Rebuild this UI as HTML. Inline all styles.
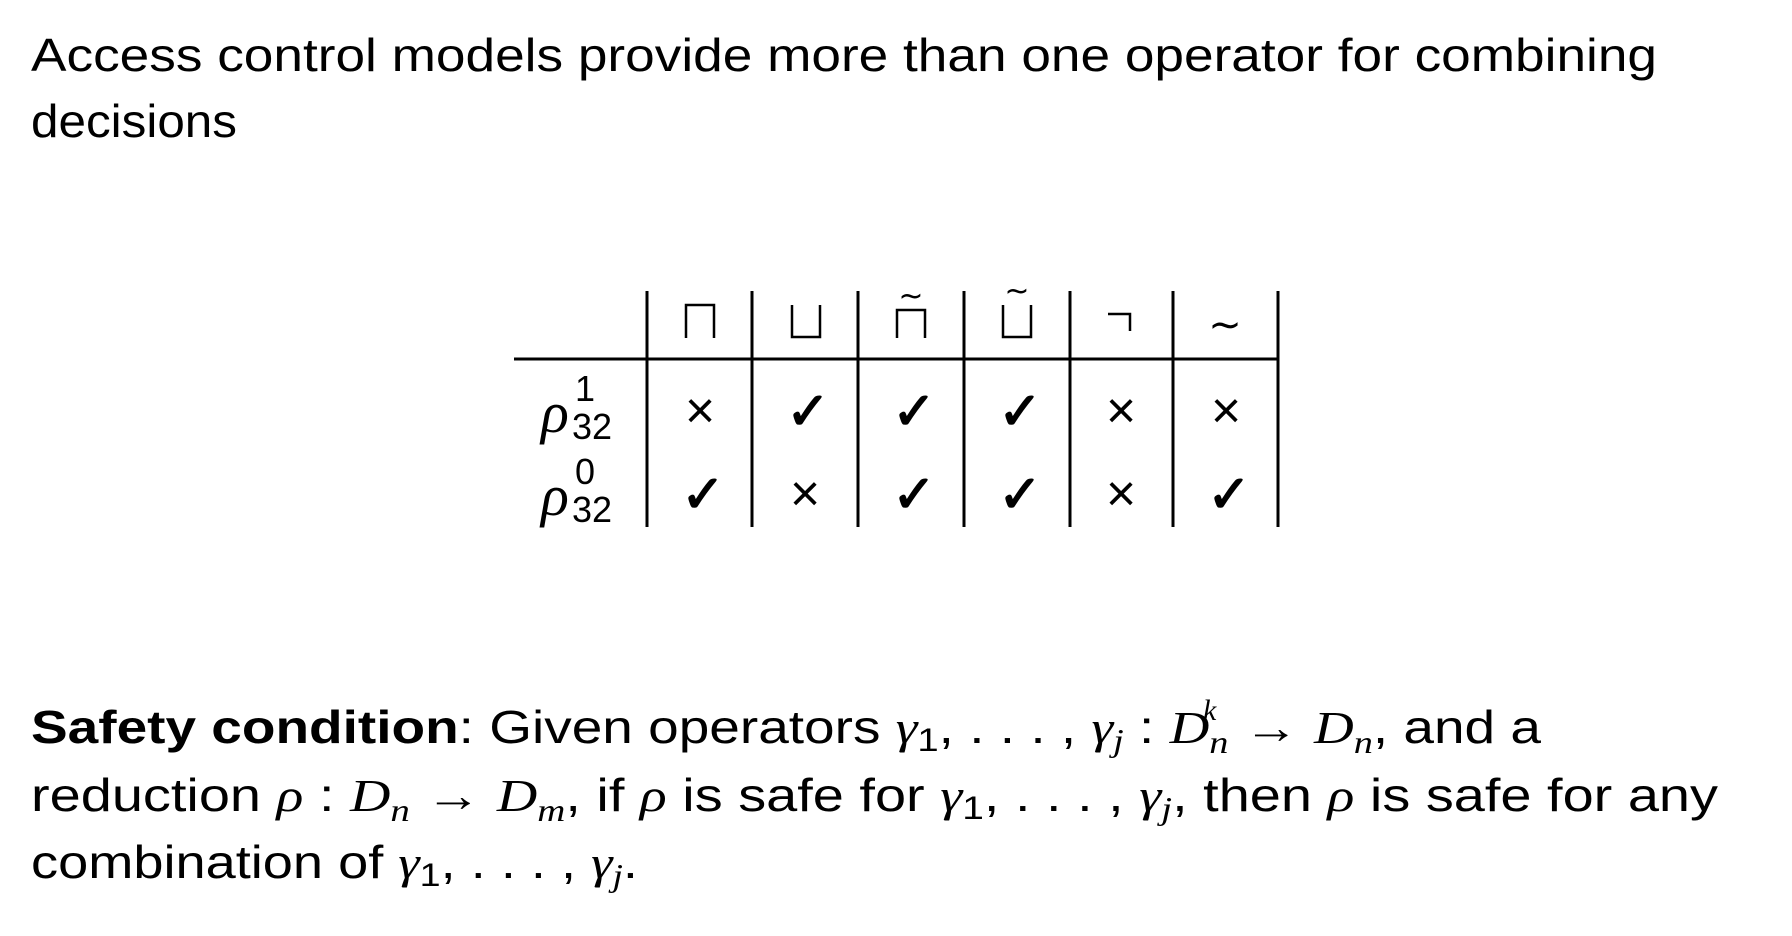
<!DOCTYPE html>
<html><head><meta charset="utf-8"><style>
html,body{margin:0;padding:0;background:#fff;width:1792px;height:936px;overflow:hidden}
svg{display:block}
text{font-family:"Liberation Sans","DejaVu Sans",sans-serif;fill:#000}
.m{font-family:"Liberation Serif","DejaVu Serif",serif;font-style:italic}
.s{font-family:"DejaVu Sans",sans-serif}
</style></head><body>
<svg width="1792" height="936" viewBox="0 0 1792 936" xmlns="http://www.w3.org/2000/svg">
<text x="31" y="71" font-size="46" textLength="1626" lengthAdjust="spacingAndGlyphs">Access control models provide more than one operator for combining</text>
<text x="31" y="137" font-size="46" textLength="206" lengthAdjust="spacingAndGlyphs">decisions</text>

<g stroke="#000" stroke-width="3">
<line x1="514" y1="359" x2="1279" y2="359"/>
<line x1="647" y1="291" x2="647" y2="527"/>
<line x1="752" y1="291" x2="752" y2="527"/>
<line x1="858" y1="291" x2="858" y2="527"/>
<line x1="964" y1="291" x2="964" y2="527"/>
<line x1="1070" y1="291" x2="1070" y2="527"/>
<line x1="1173" y1="291" x2="1173" y2="527"/>
<line x1="1278" y1="291" x2="1278" y2="527"/>
</g>
<g stroke="#000" stroke-width="2.5" fill="none">
<path d="M686 338 V305 H714 V338"/>
<path d="M792 305 V337 H820 V305"/>
<path d="M897 338 V310 H925 V338"/>
<path d="M1003 305 V337 H1031 V305"/>
<path d="M1108 314 H1130 V331"/>
</g>
<text x="911" y="306" font-size="30" text-anchor="middle" class="s">~</text>
<text x="1017" y="301" font-size="30" text-anchor="middle" class="s">~</text>
<text x="1225" y="338" font-size="40" text-anchor="middle" class="s">∼</text>
<!-- row labels -->
<text x="541" y="432" font-size="58" class="m">ρ</text>
<text x="575" y="401" font-size="36">1</text>
<text x="572" y="439" font-size="36">32</text>
<text x="541" y="515" font-size="58" class="m">ρ</text>
<text x="575" y="484" font-size="36">0</text>
<text x="572" y="522" font-size="36">32</text>
<!-- cells -->
<g class="s" text-anchor="middle">
<g font-size="52">
<text x="700" y="428">×</text>
<text x="1121" y="428">×</text>
<text x="1226" y="428">×</text>
<text x="805" y="511">×</text>
<text x="1121" y="511">×</text>
</g>
<g font-size="52" stroke="#000" stroke-width="1.5">
<text x="808" y="429">✓</text>
<text x="914" y="429">✓</text>
<text x="1020" y="429">✓</text>
<text x="703" y="512">✓</text>
<text x="914" y="512">✓</text>
<text x="1020" y="512">✓</text>
<text x="1229" y="512">✓</text>
</g>
</g>

<text x="31" y="743" font-size="46" textLength="1510" lengthAdjust="spacingAndGlyphs"><tspan font-weight="bold">Safety condition</tspan>: Given operators <tspan class="m">γ</tspan><tspan font-size="32" dy="8">1</tspan><tspan dy="-8">, . . . , </tspan><tspan class="m">γ</tspan><tspan class="m" font-size="32" dy="8">j</tspan><tspan dy="-8"> : </tspan><tspan class="m">D</tspan><tspan class="m" font-size="32" dy="10">n</tspan><tspan dy="-10"> → </tspan><tspan class="m">D</tspan><tspan class="m" font-size="32" dy="10">n</tspan><tspan dy="-10">, and a</tspan></text>
<text x="1203" y="720" font-size="30" class="m">k</text>
<text x="31" y="811" font-size="46" textLength="1687" lengthAdjust="spacingAndGlyphs">reduction <tspan class="m">ρ</tspan> : <tspan class="m">D</tspan><tspan class="m" font-size="32" dy="10">n</tspan><tspan dy="-10"> → </tspan><tspan class="m">D</tspan><tspan class="m" font-size="32" dy="10">m</tspan><tspan dy="-10">, if </tspan><tspan class="m">ρ</tspan> is safe for <tspan class="m">γ</tspan><tspan font-size="32" dy="8">1</tspan><tspan dy="-8">, . . . , </tspan><tspan class="m">γ</tspan><tspan class="m" font-size="32" dy="8">j</tspan><tspan dy="-8">, then </tspan><tspan class="m">ρ</tspan> is safe for any</text>
<text x="31" y="878" font-size="46" textLength="607" lengthAdjust="spacingAndGlyphs">combination of <tspan class="m">γ</tspan><tspan font-size="32" dy="8">1</tspan><tspan dy="-8">, . . . , </tspan><tspan class="m">γ</tspan><tspan class="m" font-size="32" dy="8">j</tspan><tspan dy="-8">.</tspan></text>
</svg>
</body></html>
